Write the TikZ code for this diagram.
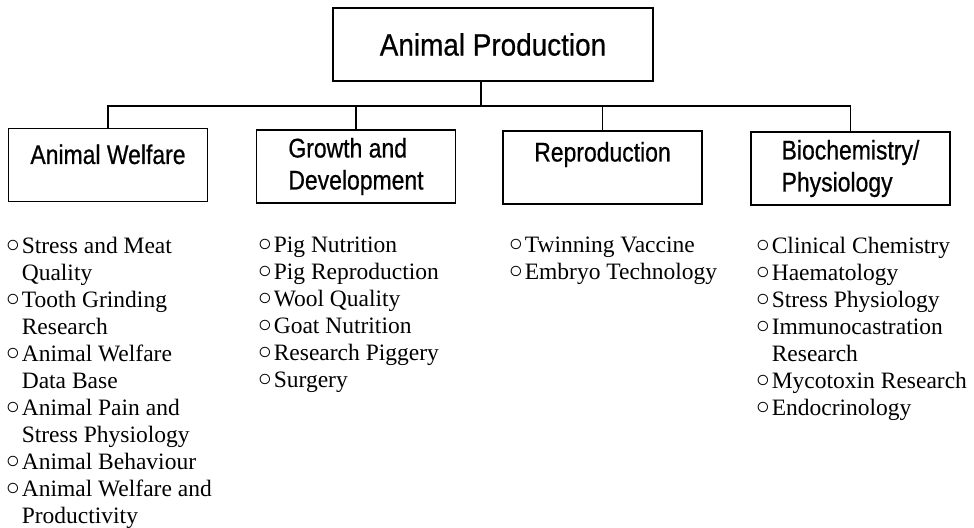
\documentclass[tikz,border=0pt]{standalone}
\usepackage{fontspec}
\setmainfont{Liberation Serif}
\newfontfamily\topfont[FakeStretch=0.9,FakeBold=0.6]{Liberation Sans}
\newfontfamily\hdfont[FakeStretch=0.85,FakeBold=0.6]{Liberation Sans}
\newcommand{\bul}{\makebox[8pt][l]{\raisebox{0.3pt}{○}}}
\newcommand{\ind}{\hspace*{8pt}}
\begin{document}
\begin{tikzpicture}[x=0.5pt,y=-0.5pt,
  line width=0.8pt,
  topbox/.style={draw, minimum width=160pt, minimum height=36.5pt, inner sep=0pt,
    font=\topfont\fontsize{15.5}{18}\selectfont},
  catbox/.style={draw, minimum width=99.5pt, minimum height=36.5pt, inner sep=0pt,
    align=left, font=\hdfont\fontsize{13.5}{16}\selectfont},
  itemlist/.style={anchor=north west, inner sep=0pt, align=left,
    font=\fontsize{11.75}{13.5}\selectfont}]
\useasboundingbox (0,0) rectangle (974,527);
% top box
\node[topbox] (top) at (493,44.5) {Animal Production};
% category boxes
\node[catbox] (aw) at (108,165) {Animal Welfare\\[-10pt] \strut};
\node[catbox] (gd) at (356,166.5) {Growth and\\ Development};
\node[catbox] (rp) at (602.5,167.5) {Reproduction\\[-5pt] \strut};
\node[catbox] (bp) at (850.5,168.5) {Biochemistry/\\ Physiology};
% connectors
\coordinate (bus) at (0,106);
\draw ([xshift=-6pt]top.south) -- ([xshift=-6pt]top.south |- bus);
\draw (aw.north) -- (aw.north |- bus) -| (bp.north);
\draw (gd.north) -- (gd.north |- bus);
\draw (rp.north) -- (rp.north |- bus);
% item lists
\node[itemlist] (awl) at (5,236) {%
\bul Stress and Meat\\
\ind Quality\\
\bul Tooth Grinding\\
\ind Research\\
\bul Animal Welfare\\
\ind Data Base\\
\bul Animal Pain and\\
\ind Stress Physiology\\
\bul Animal Behaviour\\
\bul Animal Welfare and\\
\ind Productivity};
\node[itemlist] (gdl) at (257,236) {%
\bul Pig Nutrition\\
\bul Pig Reproduction\\
\bul Wool Quality\\
\bul Goat Nutrition\\
\bul Research Piggery\\
\bul Surgery};
\node[itemlist] (rpl) at (508,236) {%
\bul Twinning Vaccine\\
\bul Embryo Technology};
\node[itemlist] (bpl) at (755,236) {%
\bul Clinical Chemistry\\
\bul Haematology\\
\bul Stress Physiology\\
\bul Immunocastration\\
\ind Research\\
\bul Mycotoxin Research\\
\bul Endocrinology};
\end{tikzpicture}
\end{document}
